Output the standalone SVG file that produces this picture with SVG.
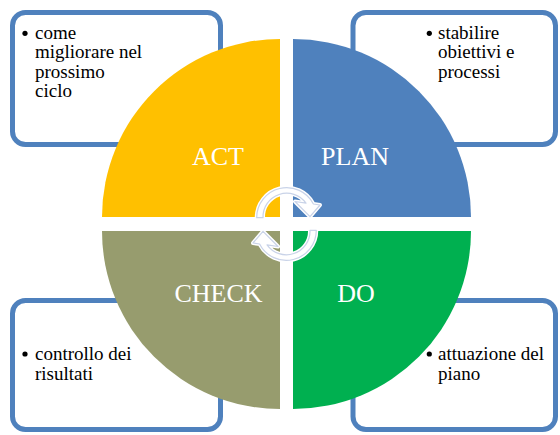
<svg xmlns="http://www.w3.org/2000/svg" width="560" height="435" viewBox="0 0 560 435">
<defs>
<style>
.box{fill:#ffffff;stroke:#4F81BD;stroke-width:5}
.txt{font-family:"Liberation Serif","Times New Roman",serif;font-size:19px;fill:#000000}
.lbl{font-family:"Liberation Serif","Times New Roman",serif;font-size:26px;fill:#ffffff;text-anchor:middle}
.glow{fill:#ffffff;stroke:#ffffff;stroke-width:4;stroke-linejoin:round}
.arr{fill:#ffffff;stroke:#c9d3e8;stroke-width:1.2;stroke-linejoin:round}
</style>
<path id="arrowTop" d="M256.7,217.7 A30,30 0 0 1 313.4,204 L320,205 L310,216.7 L295,201.5 L306,203.2 A23.7,23.7 0 0 0 263,217.7 Z"/>
</defs>
<rect width="560" height="435" fill="#ffffff"/>

<g id="box-act">
<rect class="box" x="12.5" y="12.5" width="208" height="132" rx="13"/>
<circle cx="25" cy="33.3" r="2.6" fill="#000"/>
<text class="txt" x="35" y="38.5">come</text>
<text class="txt" x="35" y="58">migliorare nel</text>
<text class="txt" x="35" y="77.5">prossimo</text>
<text class="txt" x="35" y="97">ciclo</text>
</g>
<g id="box-plan">
<rect class="box" x="353" y="12.5" width="202.5" height="132" rx="13"/>
<circle cx="429.3" cy="33.3" r="2.6" fill="#000"/>
<text class="txt" x="438" y="38.5">stabilire</text>
<text class="txt" x="438" y="58">obiettivi e</text>
<text class="txt" x="438" y="77.5">processi</text>
</g>
<g id="box-check">
<rect class="box" x="12.5" y="300.5" width="208" height="129" rx="13"/>
<circle cx="25" cy="354" r="2.6" fill="#000"/>
<text class="txt" x="35" y="360">controllo dei</text>
<text class="txt" x="35" y="379.5">risultati</text>
</g>
<g id="box-do">
<rect class="box" x="353" y="300.5" width="202.5" height="129" rx="13"/>
<circle cx="429.3" cy="354" r="2.6" fill="#000"/>
<text class="txt" x="438" y="360">attuazione del</text>
<text class="txt" x="438" y="379.5">piano</text>
</g>

<g id="act">
<path d="M280,217 L102,217 A178,178 0 0 1 280,39 Z" fill="#FFC000"/>
<text class="lbl" x="218" y="165">ACT</text>
</g>
<g id="plan">
<path d="M293,217 L293,39 A178,178 0 0 1 471,217 Z" fill="#4F81BD"/>
<text class="lbl" x="355" y="165">PLAN</text>
</g>
<g id="check">
<path d="M280,231 L280,409 A178,178 0 0 1 102,231 Z" fill="#979C6E"/>
<text class="lbl" x="218.5" y="302">CHECK</text>
</g>
<g id="do">
<path d="M293,231 L471,231 A178,178 0 0 1 293,409 Z" fill="#00B050"/>
<text class="lbl" x="356" y="302">DO</text>
</g>

<g id="connectors">
<use href="#arrowTop" class="glow"/>
<use href="#arrowTop" class="arr"/>
<g transform="rotate(180 286.5 224)">
<use href="#arrowTop" class="glow"/>
<use href="#arrowTop" class="arr"/>
</g>
</g>
</svg>
